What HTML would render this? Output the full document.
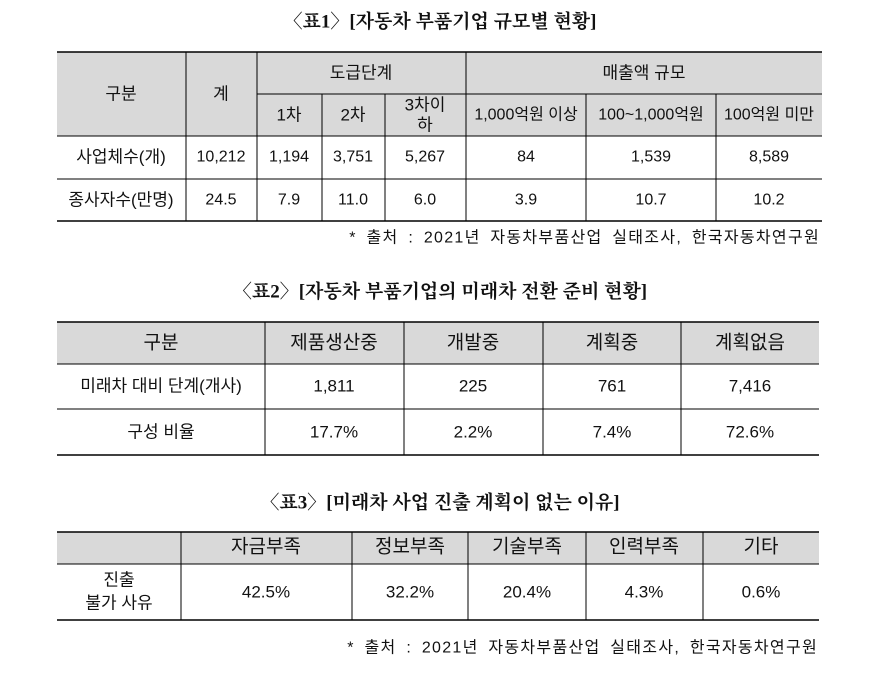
<!DOCTYPE html>
<html><head><meta charset="utf-8"><style>
body{margin:0;background:#fff}
svg text{font-family:"Liberation Sans","Noto Sans CJK KR",sans-serif;font-size:17px;fill:#111;text-anchor:middle;dominant-baseline:central}
svg text.t{font-family:"Liberation Serif","Noto Serif CJK SC",serif;font-size:19px;font-weight:bold}
svg text.n{font-size:16px}
svg text.f{text-anchor:end;font-size:16px;letter-spacing:1.3px;word-spacing:4px}
</style></head><body>
<svg width="881" height="668" xmlns="http://www.w3.org/2000/svg">
<!-- Table 1 -->
<text class="t" x="440" y="22">〈표1〉[자동차 부품기업 규모별 현황]</text>
<rect x="57" y="52" width="765" height="84" fill="#d9d9d9"/>
<g stroke="#000" stroke-width="1">
<line x1="257" y1="94" x2="822" y2="94"/>
<line x1="57" y1="136" x2="822" y2="136"/>
<line x1="57" y1="179" x2="822" y2="179"/>
<line x1="186" y1="52" x2="186" y2="221"/>
<line x1="257" y1="52" x2="257" y2="221"/>
<line x1="466" y1="52" x2="466" y2="221"/>
<line x1="322" y1="94" x2="322" y2="221"/>
<line x1="385" y1="94" x2="385" y2="221"/>
<line x1="586" y1="94" x2="586" y2="221"/>
<line x1="716" y1="94" x2="716" y2="221"/>
</g>
<line x1="57" y1="52" x2="822" y2="52" stroke="#000" stroke-width="1.5"/>
<line x1="57" y1="221" x2="822" y2="221" stroke="#000" stroke-width="1.5"/>
<text x="121" y="94">구분</text><text x="221" y="94">계</text>
<text x="361" y="73">도급단계</text><text x="644" y="73">매출액 규모</text>
<text x="289" y="115">1차</text><text x="353" y="115">2차</text>
<text x="425" y="105">3차이</text><text x="425" y="125">하</text>
<text x="526" y="115" class="n">1,000억원 이상</text><text x="651" y="115" class="n">100~1,000억원</text><text x="769" y="115" class="n">100억원 미만</text>
<text x="121" y="157">사업체수(개)</text><text x="221" y="157" class="n">10,212</text><text x="289" y="157" class="n">1,194</text><text x="353" y="157" class="n">3,751</text><text x="425" y="157" class="n">5,267</text><text x="526" y="157" class="n">84</text><text x="651" y="157" class="n">1,539</text><text x="769" y="157" class="n">8,589</text>
<text x="121" y="200">종사자수(만명)</text><text x="221" y="200" class="n">24.5</text><text x="289" y="200" class="n">7.9</text><text x="353" y="200" class="n">11.0</text><text x="425" y="200" class="n">6.0</text><text x="526" y="200" class="n">3.9</text><text x="651" y="200" class="n">10.7</text><text x="769" y="200" class="n">10.2</text>
<text x="820" y="238" class="f">* 출처 : 2021년 자동차부품산업 실태조사, 한국자동차연구원</text>

<!-- Table 2 -->
<text class="t" x="440" y="292">〈표2〉[자동차 부품기업의 미래차 전환 준비 현황]</text>
<rect x="57" y="322" width="762" height="42" fill="#d9d9d9"/>
<g stroke="#000" stroke-width="1">
<line x1="57" y1="364" x2="819" y2="364"/>
<line x1="57" y1="409" x2="819" y2="409"/>
<line x1="265" y1="322" x2="265" y2="455"/>
<line x1="404" y1="322" x2="404" y2="455"/>
<line x1="543" y1="322" x2="543" y2="455"/>
<line x1="681" y1="322" x2="681" y2="455"/>
</g>
<line x1="57" y1="322" x2="819" y2="322" stroke="#000" stroke-width="1.5"/>
<line x1="57" y1="455" x2="819" y2="455" stroke="#000" stroke-width="1.5"/>
<text x="161" y="343" style="font-size:19px">구분</text><text x="334" y="343" style="font-size:19px">제품생산중</text><text x="473" y="343" style="font-size:19px">개발중</text><text x="612" y="343" style="font-size:19px">계획중</text><text x="750" y="343" style="font-size:19px">계획없음</text>
<text x="161" y="386">미래차 대비 단계(개사)</text><text x="334" y="386">1,811</text><text x="473" y="386">225</text><text x="612" y="386">761</text><text x="750" y="386">7,416</text>
<text x="161" y="432">구성 비율</text><text x="334" y="432">17.7%</text><text x="473" y="432">2.2%</text><text x="612" y="432">7.4%</text><text x="750" y="432">72.6%</text>

<!-- Table 3 -->
<text class="t" x="440" y="503">〈표3〉[미래차 사업 진출 계획이 없는 이유]</text>
<rect x="57" y="532" width="762" height="32" fill="#d9d9d9"/>
<g stroke="#000" stroke-width="1">
<line x1="57" y1="564" x2="819" y2="564"/>
<line x1="181" y1="532" x2="181" y2="620"/>
<line x1="352" y1="532" x2="352" y2="620"/>
<line x1="468" y1="532" x2="468" y2="620"/>
<line x1="586" y1="532" x2="586" y2="620"/>
<line x1="703" y1="532" x2="703" y2="620"/>
</g>
<line x1="57" y1="532" x2="819" y2="532" stroke="#000" stroke-width="1.5"/>
<line x1="57" y1="620" x2="819" y2="620" stroke="#000" stroke-width="1.5"/>
<text x="266" y="547" style="font-size:19px">자금부족</text><text x="410" y="547" style="font-size:19px">정보부족</text><text x="527" y="547" style="font-size:19px">기술부족</text><text x="644" y="547" style="font-size:19px">인력부족</text><text x="761" y="547" style="font-size:19px">기타</text>
<text x="119" y="580">진출</text><text x="119" y="603">불가 사유</text>
<text x="266" y="592">42.5%</text><text x="410" y="592">32.2%</text><text x="527" y="592">20.4%</text><text x="644" y="592">4.3%</text><text x="761" y="592">0.6%</text>
<text x="818" y="648" class="f">* 출처 : 2021년 자동차부품산업 실태조사, 한국자동차연구원</text>
</svg>
</body></html>
